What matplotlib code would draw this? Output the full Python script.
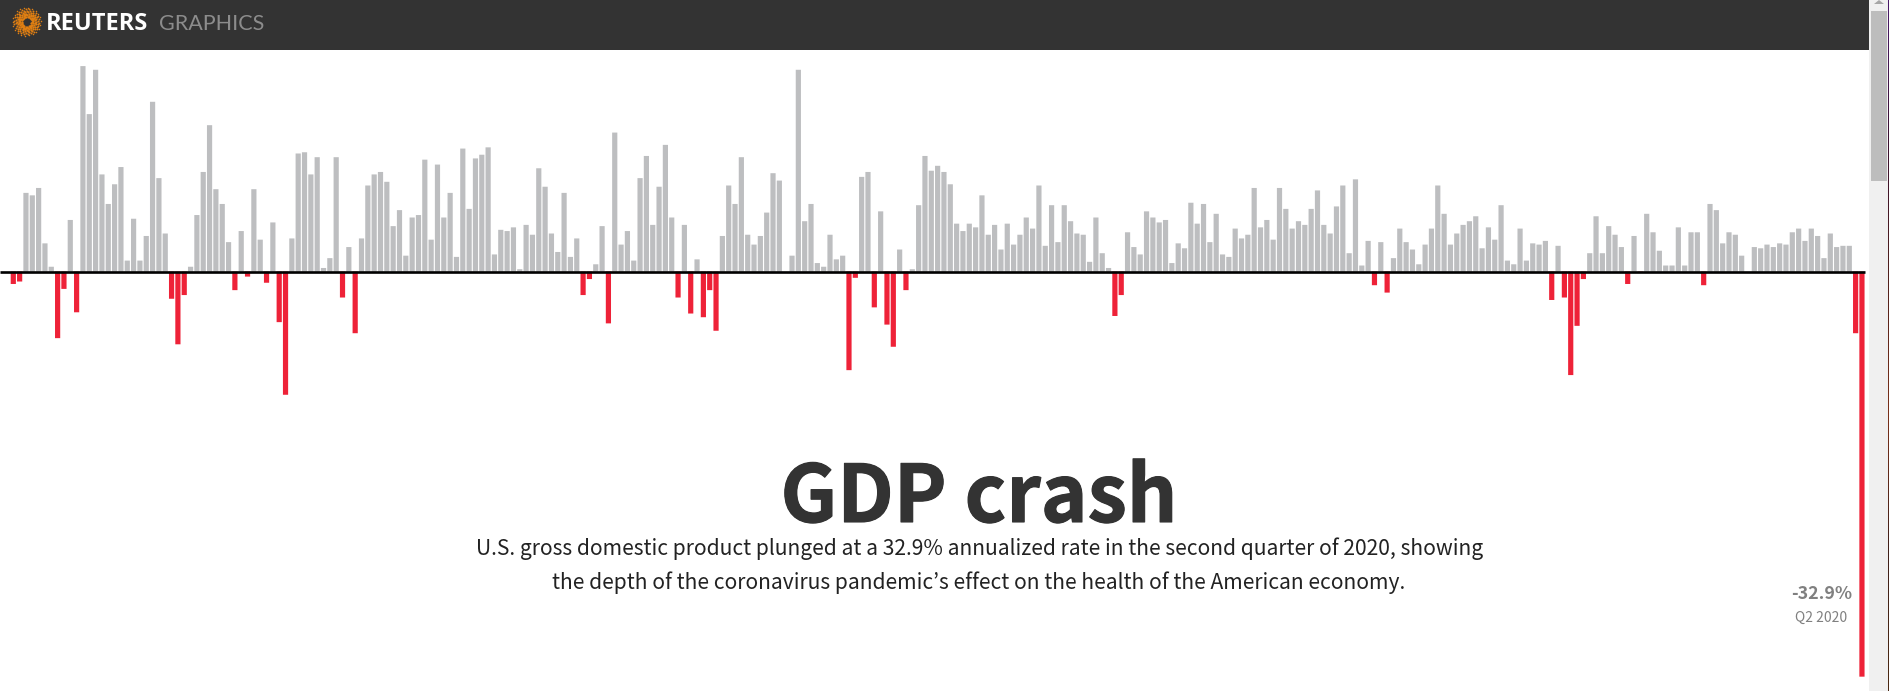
import numpy as np
import matplotlib
matplotlib.use("Agg")
import matplotlib.pyplot as plt
import matplotlib.patheffects as pe
from matplotlib.colors import LinearSegmentedColormap
from matplotlib.patches import Rectangle, Polygon

# quarterly annualized GDP change, Q2 1947 to Q2 2020
gdp_change = [
    -1.0, -0.8, 6.4, 6.2, 6.8, 2.3, 0.4, -5.4, -1.4, 4.2, -3.3, 16.7, 12.8, 16.4, 7.9, 5.5,
    7.1, 8.5, 0.9, 4.3, 0.9, 2.9, 13.8, 7.6, 3.1, -2.2, -5.9, -1.9, 0.4, 4.6, 8.1, 11.9,
    6.7, 5.5, 2.4, -1.5, 3.3, -0.4, 6.7, 2.6, -0.9, 4.0, -4.1, -10.0, 2.7, 9.6, 9.7, 7.9,
    9.3, 0.3, 1.1, 9.3, -2.1, 2.0, -5.0, 2.7, 7.0, 7.9, 8.1, 7.3, 3.7, 5.0, 1.3, 4.4,
    4.6, 9.1, 2.6, 8.7, 4.4, 6.4, 1.2, 10.0, 5.1, 9.2, 9.5, 10.1, 1.4, 3.4, 3.3, 3.6,
    0.2, 3.8, 3.0, 8.4, 6.9, 3.1, 1.6, 6.4, 1.2, 2.7, -1.9, -0.6, 0.6, 3.7, -4.2, 11.3,
    2.2, 3.3, 0.9, 7.6, 9.4, 3.8, 6.9, 10.3, 4.4, -2.1, 3.8, -3.4, 1.0, -3.7, -1.5, -4.8,
    2.9, 7.0, 5.5, 9.3, 3.0, 2.2, 2.9, 4.8, 8.0, 7.4, 0.0, 1.3, 16.4, 4.1, 5.5, 0.7,
    0.4, 3.0, 1.0, 1.3, -8.0, -0.5, 7.7, 8.1, -2.9, 4.9, -4.3, -6.1, 1.8, -1.5, 0.2, 5.4,
    9.4, 8.2, 8.6, 8.1, 7.1, 3.9, 3.3, 3.9, 3.6, 6.2, 3.0, 3.8, 1.8, 3.9, 2.2, 3.0,
    4.4, 3.5, 7.0, 2.1, 5.4, 2.4, 5.4, 4.1, 3.1, 3.0, 0.8, 4.4, 1.5, 0.3, -3.6, -1.9,
    3.2, 2.0, 1.4, 4.9, 4.4, 4.0, 4.2, 0.7, 2.3, 1.9, 5.6, 3.9, 5.5, 2.4, 4.7, 1.4,
    1.2, 3.5, 2.7, 3.0, 6.8, 3.6, 4.2, 2.6, 6.8, 5.1, 3.5, 4.1, 3.8, 5.1, 6.6, 3.8,
    3.1, 5.3, 7.0, 1.5, 7.5, 0.5, 2.5, -1.1, 2.4, -1.7, 1.1, 3.5, 2.4, 1.8, 0.6, 2.2,
    3.5, 7.0, 4.7, 2.2, 3.1, 3.8, 4.1, 4.5, 1.9, 3.6, 2.6, 5.4, 0.9, 0.6, 3.5, 0.9,
    2.3, 2.2, 2.5, -2.3, 2.1, -2.1, -8.4, -4.4, -0.6, 1.5, 4.5, 1.5, 3.7, 3.0, 2.0, -1.0,
    2.9, -0.1, 4.7, 3.2, 1.7, 0.5, 0.5, 3.6, 0.5, 3.2, 3.2, -1.1, 5.5, 5.0, 2.3, 3.2,
    3.0, 1.3, 0.0, 2.0, 1.9, 2.2, 2.0, 2.3, 2.2, 3.2, 3.5, 2.5, 3.5, 2.9, 1.1, 3.1,
    2.0, 2.1, 2.1, -5.0, -32.9,
]

title = "GDP crash"
subtitle = [
    "U.S. gross domestic product plunged at a 32.9% annualized rate in the second quarter of 2020, showing",
    "the depth of the coronavirus pandemic\u2019s effect on the health of the American economy.",
]
last_value = "-32.9%"
last_period = "Q2 2020"

W, H = 1890, 691
ZERO_Y = 271.67
PX_PER_PCT = 12.31
PITCH = 6.331
FIRST_X = 13.3

GREY = "#bdbec0"
RED = "#ee2238"
DARK = "#333333"
# KR cut keeps the curly apostrophe narrow, SC draws it full width
SANS = ["Noto Sans CJK KR", "DejaVu Sans"]

fig = plt.figure(figsize=(W / 100, H / 100), dpi=100, facecolor="white")

# bars, axes limits chosen so the scale fills the whole figure
ax = fig.add_axes([0, 0, 1, 1])
ax.set_xlim(-FIRST_X / PITCH, (W - FIRST_X) / PITCH)
ax.set_ylim(-(H - ZERO_Y) / PX_PER_PCT, ZERO_Y / PX_PER_PCT)
ax.axis("off")

vals = np.array(gdp_change)
idx = np.arange(len(vals))
ax.bar(idx, vals, width=0.82, color=np.where(vals < 0, RED, GREY), linewidth=0, snap=False)
ax.hlines(0, ax.get_xlim()[0], idx[-1] + 0.5, color="#000000", linewidth=1.9, zorder=3)

# page furniture in pixel coordinates
pg = fig.add_axes([0, 0, 1, 1], facecolor="none")
pg.set_xlim(0, W)
pg.set_ylim(H, 0)
pg.axis("off")

pg.add_patch(Rectangle((0, 0), 1869, 50, color=DARK, linewidth=0))
pg.add_patch(Rectangle((1869, 0), 19, H, color="#f0f0f0", linewidth=0))
pg.add_patch(Rectangle((1871, 11), 16, 170, color="#bdbdbd", linewidth=0))
pg.add_patch(Polygon([(1874, 4), (1884, 4), (1879, 0)], color="#a6a6a6", linewidth=0))

# bit of desktop showing at the right edge
desktop = LinearSegmentedColormap.from_list("desktop", ["#4a1a6a", "#3a1030", "#50201c", "#7a3018", "#40201a", "#4a2812"])
pg.imshow(np.linspace(0, 1, 100)[:, None], cmap=desktop, extent=(1888, W, H, 0), aspect="auto", zorder=1)
pg.set_xlim(0, W)
pg.set_ylim(H, 0)

# logo, rings of orange dots
for r, s in [(5, 2.5), (6.5, 3), (8, 3), (9.5, 2.6), (11, 2.4), (12.5, 2), (14, 1.2)]:
    th = np.linspace(0, 2 * np.pi, 22, endpoint=False) + r * 0.12
    pg.scatter(26.7 + r * np.cos(th), 21.7 + r * np.sin(th), s=s, color="#e07f12", linewidth=0, zorder=2)

pg.text(46, 29.5, "REUTERS", color="white", fontsize=17, family="Open Sans", weight="bold", va="baseline", zorder=2)
pg.text(159, 29.5, "GRAPHICS", color="#8c8c8c", fontsize=15.5, family="Lato", weight="normal", va="baseline", zorder=2)

t = pg.text(979, 522, title, color=DARK, fontsize=57, family=SANS, weight="bold", ha="center", va="baseline")
t.set_path_effects([pe.withStroke(linewidth=0.8, foreground=DARK)])
pg.text(979.5, 555, subtitle[0], color="#222222", fontsize=15.15, family=SANS, ha="center", va="baseline")
pg.text(978.5, 589, subtitle[1], color="#222222", fontsize=15.15, family=SANS, ha="center", va="baseline")

pg.text(1821.5, 599, last_value, color="#808080", fontsize=12.8, family=SANS, weight="bold", ha="center", va="baseline")
pg.text(1821, 622, last_period, color="#808080", fontsize=10, family=SANS, ha="center", va="baseline")

fig.savefig("out.png", dpi=100)
